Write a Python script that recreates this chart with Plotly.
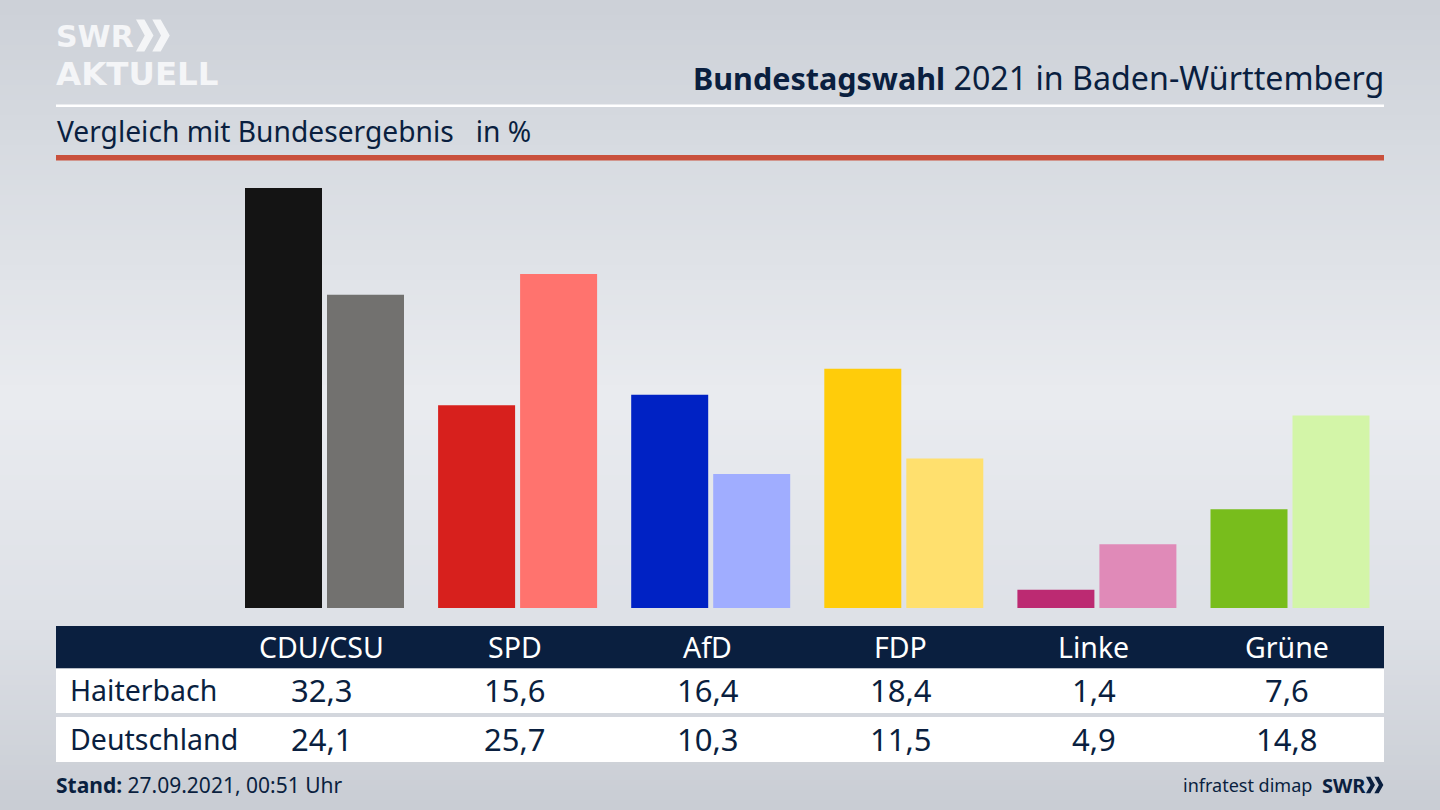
import numpy as np
import plotly.graph_objects as go

W, H = 1440, 810
FONT = "Noto Sans"
LOGO_FONT = "DejaVu Sans"
NAVY = "#0a1f3f"

parties = ["CDU/CSU", "SPD", "AfD", "FDP", "Linke", "Grüne"]
haiterbach = [32.3, 15.6, 16.4, 18.4, 1.4, 7.6]
deutschland = [24.1, 25.7, 10.3, 11.5, 4.9, 14.8]
colors_haiterbach = ["#141414", "#d7201d", "#0022c4", "#ffcc0a", "#bc2a72", "#78bd1c"]
colors_deutschland = ["#72716f", "#ff736e", "#a0adff", "#ffe06e", "#e08ab8", "#d3f5a8"]
row_names = ["Haiterbach", "Deutschland"]

GROUP0, STEP, PX_PER_UNIT, BASE = 324.5, 193.1, 13.0, 608


def px(x):
    return x / W


def py(y):
    return 1 - y / H


def rect(x0, y0, x1, y1, color, layer="above"):
    return dict(type="rect", xref="paper", yref="paper", x0=px(x0), x1=px(x1),
                y0=py(y1), y1=py(y0), fillcolor=color, line_width=0, layer=layer)


def label(text, x, y, size, color=NAVY, anchor="left", xref="paper", family=FONT, **kw):
    return dict(text=text, x=x if xref != "paper" else px(x), y=py(y), xref=xref, yref="paper",
                xanchor=anchor, yanchor="middle", showarrow=False, borderpad=0, borderwidth=0,
                font=dict(family=family, size=size, color=color), **kw)


def chevrons(x, y, h, color):
    # two ">>" arrowheads, x/y = left/top in pixels
    w = h * 0.5
    paths = []
    for dx in (0, w * 0.93):
        pts = [(dx, h * 0.04), (dx + w * 0.48, h * 0.04), (dx + w, h / 2), (dx + w * 0.48, h * 0.96),
               (dx, h * 0.96), (dx + w * 0.5, h / 2)]
        d = "M" + " L".join(f"{px(x + a):.5f},{py(y + b):.5f}" for a, b in pts) + " Z"
        paths.append(dict(type="path", path=d, xref="paper", yref="paper",
                          fillcolor=color, line_width=0, layer="above"))
    return paths


# background gradient
stops_y = [0, 130, 400, 620, 810]
stops_r = [205, 214, 234, 222, 201]
stops_g = [209, 218, 236, 225, 205]
stops_b = [216, 224, 240, 231, 212]
shapes = []
for y in range(0, H, 5):
    c = [int(np.interp(y + 2.5, stops_y, s)) for s in (stops_r, stops_g, stops_b)]
    shapes.append(rect(0, y, W, y + 5.5, f"rgb({c[0]},{c[1]},{c[2]})", layer="below"))

shapes += [
    rect(56, 104.5, 1384, 107, "#ffffff"),
    rect(56, 155, 1384, 160.5, "#c9503c"),
    rect(56, 626, 1384, 668.5, NAVY),
    rect(56, 668.5, 1384, 713, "#ffffff"),
    rect(56, 717, 1384, 762, "#ffffff"),
]
shapes += chevrons(136, 18, 35, "#f4f5f7")
shapes += chevrons(1366, 776, 18, NAVY)

LOGO = '<span style="font-size:{}px"><b>{}</b></span>'
annotations = [
    # one text with two lines: the line spacing follows the base size, the glyph size the spans
    label(LOGO.format(30, "SWR") + "<br>" + LOGO.format(32.5, "AKTUELL"), 55.5, 55.5, 28.85, "#f4f5f7",
          family=LOGO_FONT, align="left"),
    label('<span style="font-size:30.5px"><b>Bundestagswahl</b></span> 2021 in Baden-Württemberg',
          1384, 77, 32.2, anchor="right"),
    label("Vergleich mit Bundesergebnis   in %", 57, 131, 28.2),
    label("<b>Stand:</b> 27.09.2021, 00:51 Uhr", 56, 785, 21),
    label("infratest dimap", 1312, 785, 18, anchor="right"),
    label("<b>SWR</b>", 1366, 785, 20, anchor="right"),
    label(row_names[0], 70, 690, 28.5),
    label(row_names[1], 70, 739, 28.5),
]
for p, a, b in zip(parties, haiterbach, deutschland):
    annotations.append(label(p, p, 647, 28.5, "#ffffff", "center", "x", xshift=-3))
    annotations.append(label(f"{a:.1f}".replace(".", ","), p, 690, 31, NAVY, "center", "x", xshift=-3))
    annotations.append(label(f"{b:.1f}".replace(".", ","), p, 739, 31, NAVY, "center", "x", xshift=-3))

fig = go.Figure([
    go.Bar(name=row_names[0], x=parties, y=haiterbach, marker=dict(color=colors_haiterbach, line_width=0)),
    go.Bar(name=row_names[1], x=parties, y=deutschland, marker=dict(color=colors_deutschland, line_width=0)),
])
r0 = -GROUP0 / STEP
fig.update_layout(
    width=W, height=H, autosize=False,
    margin=dict(l=0, r=0, t=0, b=0, pad=0),
    barmode="group", bargap=0.1507, bargroupgap=0.061,
    showlegend=False,
    paper_bgcolor="#dfe2e7", plot_bgcolor="rgba(0,0,0,0)",
    xaxis=dict(visible=False, type="category", range=[r0, r0 + W / STEP], domain=[0, 1], fixedrange=True),
    yaxis=dict(visible=False, range=[0, BASE / PX_PER_UNIT], domain=[(H - BASE) / H, 1], fixedrange=True),
    shapes=shapes, annotations=annotations,
)
fig.write_html("out.html", post_script="document.body.style.margin='0';document.body.style.overflow='hidden';",
               config=dict(displayModeBar=False))
